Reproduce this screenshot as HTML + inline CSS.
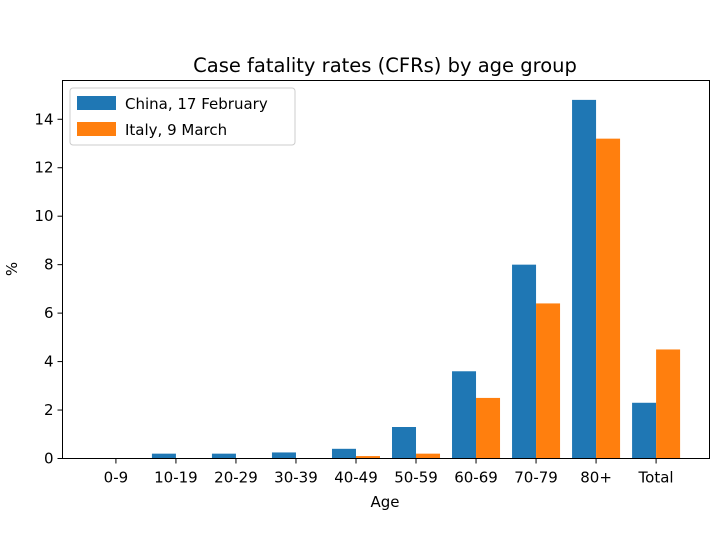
<!DOCTYPE html>
<html><head><meta charset="utf-8"><style>
body{margin:0;background:#fff;}
svg text{font-family:"DejaVu Sans","Liberation Sans",sans-serif;fill:#000;}
</style></head><body>
<svg id="chart" width="724" height="532" xmlns="http://www.w3.org/2000/svg">
<text x="385" y="72" font-size="19.5" text-anchor="middle">Case fatality rates (CFRs) by age group</text>
<g id="bars"></g>
<g id="yticks"></g>
<g id="xticks"></g>
<rect x="62.5" y="80.5" width="647" height="378" fill="none" stroke="#000" stroke-width="1"/>
<text x="17" y="269" font-size="15" text-anchor="middle" transform="rotate(-90 17 269)">%</text>
<text x="385" y="507" font-size="15" text-anchor="middle">Age</text>
<g>
<rect x="70" y="88" width="225" height="57" rx="3" fill="#fff" stroke="#ccc"/>
<g><rect x="77" y="96" width="39" height="14" fill="#1f77b4"/><text x="125" y="109" font-size="15">China, 17 February</text></g>
<g><rect x="77" y="122" width="39" height="14" fill="#ff7f0e"/><text x="125" y="135" font-size="15">Italy, 9 March</text></g>
</g>
</svg>
<script>
const categories=["0-9","10-19","20-29","30-39","40-49","50-59","60-69","70-79","80+","Total"];
const china=[0.02,0.2,0.2,0.25,0.4,1.3,3.6,8.0,14.8,2.3];
const italy=[0.02,0.02,0.02,0.02,0.1,0.2,2.5,6.4,13.2,4.5];
const yTicks=[0,2,4,6,8,10,12,14];
const NS="http://www.w3.org/2000/svg";
const L=62.5,R=709.5,T=80.5,B=458.5;
const xmin=-0.89,xmax=9.89,ymax=15.6;
const xs=v=>L+(v-xmin)/(xmax-xmin)*(R-L);
const ys=v=>B-v/ymax*(B-T);
function mk(t,a,p){const e=document.createElementNS(NS,t);for(const k in a)e.setAttribute(k,a[k]);p.appendChild(e);return e;}
const bars=document.getElementById('bars'),yt=document.getElementById('yticks'),xt=document.getElementById('xticks');
const bw=xs(0.4)-xs(0);
categories.forEach((c,i)=>{
  let r=mk('rect',{x:xs(i-0.4),y:ys(china[i]),width:bw,height:Math.max(B-ys(china[i]),0),fill:'#1f77b4'},bars);
  
  
  let r2=mk('rect',{x:xs(i),y:ys(italy[i]),width:bw,height:Math.max(B-ys(italy[i]),0),fill:'#ff7f0e'},bars);
  
  
  mk('line',{x1:xs(i),x2:xs(i),y1:B,y2:B+5,stroke:'#000'},xt);
  let t=mk('text',{x:xs(i),y:B+24,'font-size':15,'text-anchor':'middle'},xt);
  t.textContent=c;
  
  
});
yTicks.forEach(v=>{
  mk('line',{x1:L-5,x2:L,y1:ys(v),y2:ys(v),stroke:'#000'},yt);
  let t=mk('text',{x:L-9,y:ys(v)+5,'font-size':15,'text-anchor':'end'},yt);
  t.textContent=v;
  
  
});
</script>
</body></html>
